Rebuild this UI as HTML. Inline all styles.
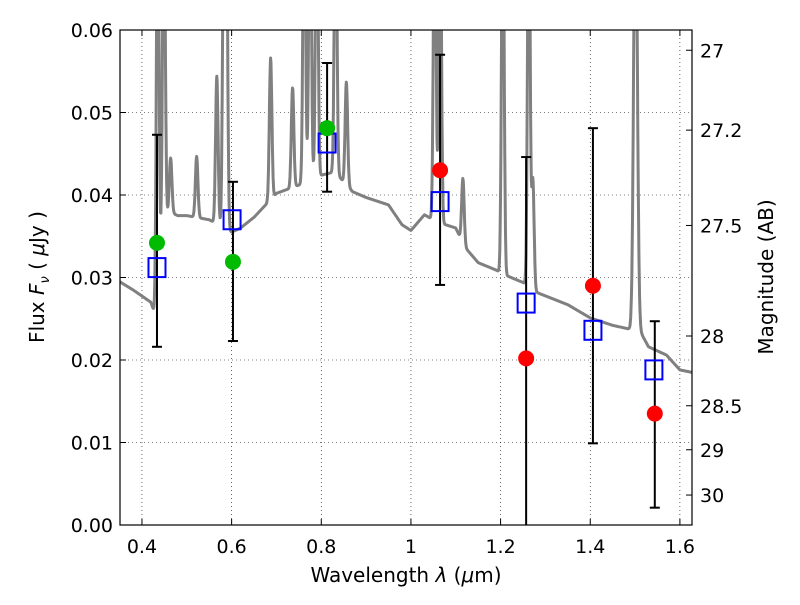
<!DOCTYPE html>
<html><head><meta charset="utf-8"><style>
body{margin:0;background:#fff;width:800px;height:600px;overflow:hidden}
svg text{font-family:"DejaVu Sans","Liberation Sans",sans-serif;fill:#000}
</style></head><body>
<svg id="chart" width="800" height="600" xmlns="http://www.w3.org/2000/svg"></svg>
<script>
// ---- data ----
const xTicks=[0.4,0.6,0.8,1.0,1.2,1.4,1.6];
const xTickLabels=["0.4","0.6","0.8","1","1.2","1.4","1.6"];
const yTicks=[0,0.01,0.02,0.03,0.04,0.05,0.06];
const yTickLabels=["0.00","0.01","0.02","0.03","0.04","0.05","0.06"];
const magTicks=[27,27.2,27.5,28,28.5,29,30];
const magTickLabels=["27","27.2","27.5","28","28.5","29","30"];
const contWave=[0.35,0.38,0.42,0.432,0.438,0.445,0.46,0.48,0.5,0.55,0.6,0.62,0.65,0.7,0.75,0.8,0.83,0.87,0.9,0.95,0.98,1.0,1.03,1.06,1.1,1.12,1.15,1.19,1.21,1.25,1.28,1.35,1.4,1.45,1.5,1.51,1.53,1.57,1.6,1.627];
const contFlux=[0.0295,0.0285,0.027,0.025,0.030,0.036,0.038,0.0375,0.0375,0.037,0.0355,0.036,0.0373,0.0402,0.0412,0.0424,0.0428,0.0404,0.0397,0.0388,0.0364,0.0357,0.0376,0.0367,0.036,0.0337,0.0318,0.0309,0.0303,0.0294,0.0282,0.0267,0.0251,0.0242,0.0236,0.0236,0.0216,0.0206,0.0188,0.0185];
const lineWave=[0.435,0.449,0.464,0.522,0.567,0.583,0.588,0.687,0.736,0.762,0.775,0.79,0.832,0.856,1.053,1.065,1.116,1.205,1.263,1.272,1.501];
const linePeak=[0.08,0.08,0.0445,0.0447,0.0544,0.08,0.08,0.0566,0.053,0.08,0.08,0.08,0.08,0.0537,0.08,0.08,0.042,0.08,0.08,0.0418,0.08];
const modelWave=[0.4335,0.601,0.813,1.065,1.257,1.406,1.542];
const modelFlux=[0.0312,0.037,0.0463,0.0392,0.0269,0.0236,0.0188];
const obsWave=[0.4335,0.603,0.813,1.065,1.257,1.406,1.544];
const obsFlux=[0.0342,0.0319,0.0481,0.043,0.0202,0.029,0.0135];
const obsColor=["#00bb00","#00bb00","#00bb00","#ff0000","#ff0000","#ff0000","#ff0000"];
const errLow=[0.0216,0.0223,0.0404,0.0291,-0.01,0.0099,0.0021];
const errHigh=[0.0473,0.0416,0.056,0.057,0.0446,0.0481,0.0247];

const L=120,R=692,T=30,B=525,X0=0.351,X1=1.627,Y0=0,Y1=0.06;
const sx=v=>L+(v-X0)/(X1-X0)*(R-L);
const sy=v=>B-(v-Y0)/(Y1-Y0)*(B-T);
const svg=document.getElementById('chart');
const NS="http://www.w3.org/2000/svg";
function mk(tag,attrs,parent){const e=document.createElementNS(NS,tag);for(const k in attrs)e.setAttribute(k,attrs[k]);(parent||svg).appendChild(e);return e;}

const defs=mk('defs',{});
const cp=mk('clipPath',{id:'clip'},defs);
mk('rect',{x:L,y:T,width:R-L,height:B-T},cp);

xTicks.forEach((v,i)=>{
  const g=mk('line',{x1:sx(v),x2:sx(v),y1:T,y2:B,stroke:'#000','stroke-width':0.6,'stroke-dasharray':'1,3'});
  
  mk('line',{x1:sx(v),x2:sx(v),y1:B,y2:B-6,stroke:'#000'});
  mk('line',{x1:sx(v),x2:sx(v),y1:T,y2:T+6,stroke:'#000'});
  const t=mk('text',{x:sx(v),y:553,'text-anchor':'middle','font-size':19});
  t.textContent=xTickLabels[i];
  
});
yTicks.forEach((v,i)=>{
  const g=mk('line',{x1:L,x2:R,y1:sy(v),y2:sy(v),stroke:'#000','stroke-width':0.6,'stroke-dasharray':'1,3'});
  
  mk('line',{x1:L,x2:L+6,y1:sy(v),y2:sy(v),stroke:'#000'});
  const t=mk('text',{x:113,y:sy(v)+7,'text-anchor':'end','font-size':19});
  t.textContent=yTickLabels[i];
  
});
magTicks.forEach((m,i)=>{
  const f=Math.pow(10,(23.9-m)/2.5);const y=sy(f);
  mk('line',{x1:R-6,x2:R,y1:y,y2:y,stroke:'#000'});
  const t=mk('text',{x:700,y:y+7,'font-size':19});
  t.textContent=magTickLabels[i];
  
});

function cont(w){for(let i=0;i<contWave.length-1;i++){if(w<=contWave[i+1]){const a=(w-contWave[i])/(contWave[i+1]-contWave[i]);return contFlux[i]+a*(contFlux[i+1]-contFlux[i]);}}return contFlux[contFlux.length-1];}
let pts=[];
for(let w=X0;w<=X1;w+=0.0008){
  let f=cont(w);
  lineWave.forEach((lw,j)=>{const s=lw>1.45?0.004:0.0028;const c=cont(lw);f+=(linePeak[j]-c)*Math.exp(-0.5*((w-lw)/s)**2);});
  pts.push(sx(w).toFixed(1)+','+sy(f).toFixed(1));
}
const sp=mk('polyline',{points:pts.join(' '),fill:'none',stroke:'#808080','stroke-width':3,'stroke-linejoin':'round','clip-path':'url(#clip)'});


obsWave.forEach((w,i)=>{
  const x=sx(w);
  const e=mk('line',{x1:x,x2:x,y1:sy(errLow[i]),y2:sy(errHigh[i]),stroke:'#000','stroke-width':2,'clip-path':'url(#clip)'});
  
  mk('line',{x1:x-5,x2:x+5,y1:sy(errHigh[i]),y2:sy(errHigh[i]),stroke:'#000','stroke-width':2});
  if(errLow[i]>0)mk('line',{x1:x-5,x2:x+5,y1:sy(errLow[i]),y2:sy(errLow[i]),stroke:'#000','stroke-width':2});
});
modelWave.forEach((w,i)=>{
  const b=mk('rect',{x:sx(w)-8.5,y:sy(modelFlux[i])-9.5,width:17,height:19,fill:'none',stroke:'#0000ff','stroke-width':2});
  
});
obsWave.forEach((w,i)=>{
  const c=mk('circle',{cx:sx(w),cy:sy(obsFlux[i]),r:8,fill:obsColor[i]});
  
});

const fr=mk('rect',{x:L,y:T,width:R-L,height:B-T,fill:'none',stroke:'#000','stroke-width':1.2});


const xl=mk('text',{x:406,y:582,'text-anchor':'middle','font-size':20});
xl.innerHTML='Wavelength  <tspan font-style="italic">λ</tspan> (<tspan font-style="italic">μ</tspan>m)';

const yl=mk('text',{x:0,y:0,'text-anchor':'middle','font-size':20,transform:'translate(44,277) rotate(-90)'});
yl.innerHTML='Flux  <tspan font-style="italic">F</tspan><tspan font-style="italic" font-size="13" dy="5">ν</tspan><tspan dy="-5">  (  </tspan><tspan font-style="italic">μ</tspan>Jy )';

const ml=mk('text',{x:0,y:0,'text-anchor':'middle','font-size':20,transform:'translate(773,277) rotate(-90)'});
ml.textContent='Magnitude (AB)';

</script>
</body></html>
